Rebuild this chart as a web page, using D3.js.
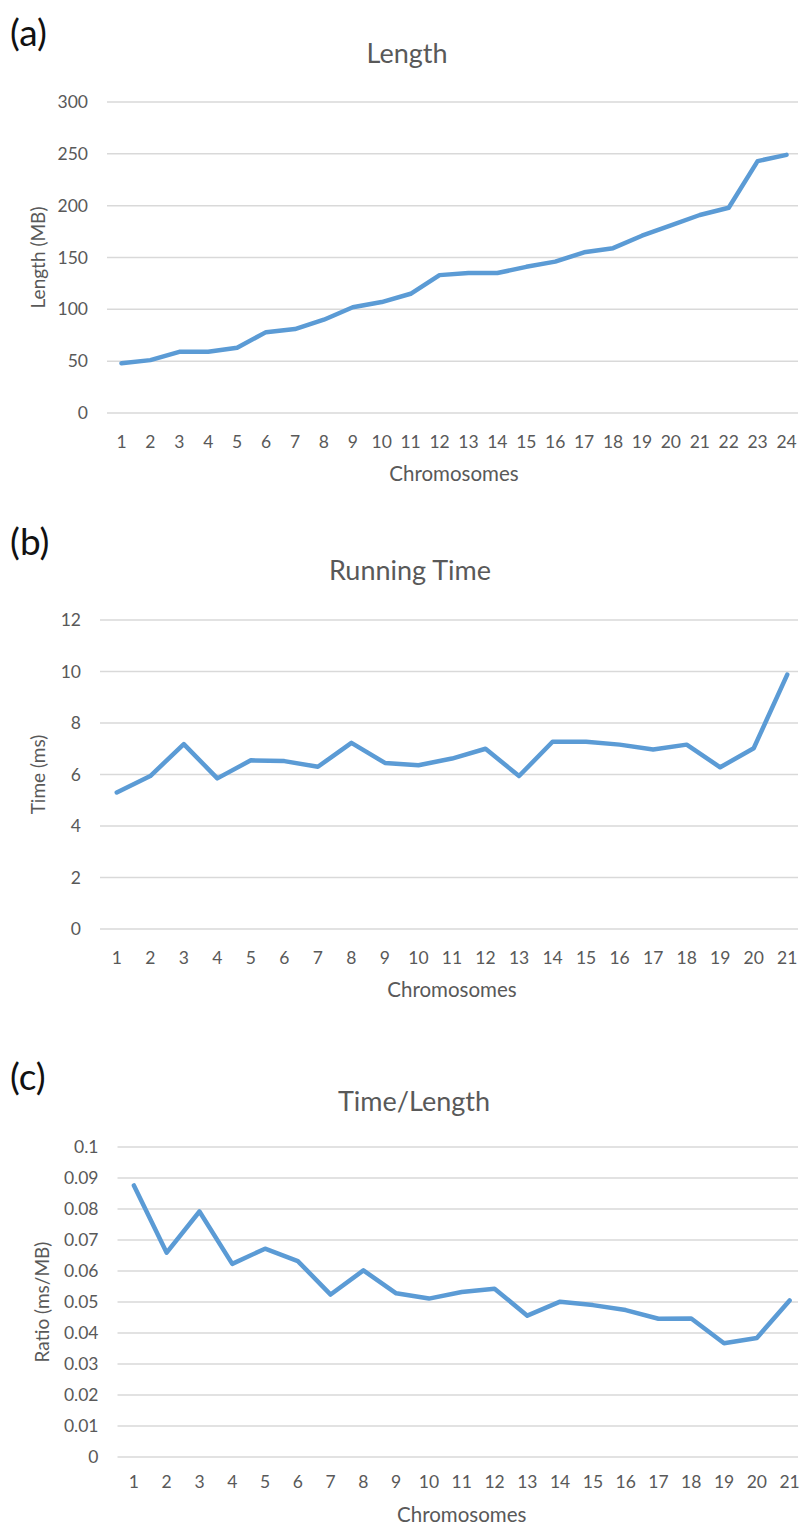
<!DOCTYPE html>
<html>
<head>
<meta charset="utf-8">
<script src="https://cdn.jsdelivr.net/npm/d3@7"></script>
<style>
  body { margin: 0; background: #fff; }
  text { font-family: Lato, "Open Sans", sans-serif; }
</style>
</head>
<body>
<div id="chart"></div>
<script>
// Chromosome charts: length, running time and time/length

const width = 801;
const height = 1527;

// data
const lengthChromosomes = d3.range(1, 25).map(String);
const timeChromosomes = d3.range(1, 22).map(String);

const lengthMB = [48, 51, 59, 59, 63, 78, 81, 90, 102, 107, 115, 133,
                  135, 135, 141, 146, 155, 159, 171, 181, 191, 198, 243, 249];
const timeMs = [5.30, 5.94, 7.18, 5.85, 6.55, 6.52, 6.30, 7.23, 6.45, 6.36, 6.62,
                7.00, 5.94, 7.27, 7.27, 7.16, 6.97, 7.16, 6.28, 7.02, 9.88];
const ratio = [0.0876, 0.0659, 0.0792, 0.0623, 0.0672, 0.0632, 0.0524, 0.0602,
               0.0528, 0.0511, 0.0532, 0.0543, 0.0456, 0.0501, 0.0490, 0.0474,
               0.0446, 0.0447, 0.0367, 0.0384, 0.0505];

const lengthTicks = [0, 50, 100, 150, 200, 250, 300];
const timeTicks = [0, 2, 4, 6, 8, 10, 12];
const ratioTicks = d3.range(0, 11).map(i => i / 100);

const svg = d3.select("#chart")
  .append("svg")
  .attr("width", width)
  .attr("height", height);

///////////////////////////////////////////
////////////// Panels /////////////////////
///////////////////////////////////////////
const panels = [
  {
    tag: "(a)", tagY: 46,
    title: "Length", titleX: 407, titleY: 63,
    yTitle: "Length (MB)", yTitleX: 38,
    cats: lengthChromosomes, values: lengthMB, ticks: lengthTicks,
    fmt: d => d,
    x0: 107, x1: 801, yTop: 102, yBottom: 413,
    xLabelY: 448, xTitleY: 481
  },
  {
    tag: "(b)", tagY: 555,
    title: "Running Time", titleX: 410, titleY: 580,
    yTitle: "Time (ms)", yTitleX: 38,
    cats: timeChromosomes, values: timeMs, ticks: timeTicks,
    fmt: d => d,
    x0: 100, x1: 804, yTop: 620, yBottom: 929,
    xLabelY: 964, xTitleY: 997
  },
  {
    tag: "(c)", tagY: 1090,
    title: "Time/Length", titleX: 414, titleY: 1111,
    yTitle: "Ratio (ms/MB)", yTitleX: 42,
    cats: timeChromosomes, values: ratio, ticks: ratioTicks,
    fmt: d => d === 0 ? "0" : d3.format(".2~f")(d),
    x0: 117.5, x1: 806, yTop: 1147, yBottom: 1457,
    xLabelY: 1488, xTitleY: 1522
  }
];

panels.forEach(p => {
  const g = svg.append("g");

  const x = d3.scalePoint()
    .domain(p.cats)
    .range([p.x0, p.x1])
    .padding(0.5);

  const y = d3.scaleLinear()
    .domain([0, d3.max(p.ticks)])
    .range([p.yBottom, p.yTop]);

  // gridlines
  g.selectAll(".grid")
    .data(p.ticks)
    .join("line")
      .attr("x1", p.x0)
      .attr("x2", Math.min(p.x1, width - 3))
      .attr("y1", d => y(d))
      .attr("y2", d => y(d))
      .attr("stroke", "#d9d9d9")
      .attr("stroke-width", 1.5);

  // y tick labels
  g.selectAll(".ytick")
    .data(p.ticks)
    .join("text")
      .attr("x", p.x0 - 19)
      .attr("y", d => y(d))
      .attr("dy", "0.35em")
      .attr("text-anchor", "end")
      .attr("font-size", 17.5)
      .attr("fill", "#595959")
      .text(p.fmt);

  // x tick labels
  g.selectAll(".xtick")
    .data(p.cats)
    .join("text")
      .attr("x", d => x(d))
      .attr("y", p.xLabelY)
      .attr("text-anchor", "middle")
      .attr("font-size", 17.5)
      .attr("fill", "#595959")
      .text(d => d);

  // line
  const line = d3.line()
    .x((d, i) => x(p.cats[i]))
    .y(d => y(d));

  g.append("path")
    .datum(p.values)
    .attr("fill", "none")
    .attr("stroke", "#5b9bd5")
    .attr("stroke-width", 4.5)
    .attr("stroke-linejoin", "round")
    .attr("stroke-linecap", "round")
    .attr("d", line);

  // titles
  g.append("text")
    .attr("x", 10)
    .attr("y", p.tagY)
    .attr("font-size", 37)
    .attr("fill", "#111")
    .text(p.tag);

  g.append("text")
    .attr("x", p.titleX)
    .attr("y", p.titleY)
    .attr("text-anchor", "middle")
    .attr("font-size", 27)
    .attr("fill", "#595959")
    .text(p.title);

  g.append("text")
    .attr("x", (p.x0 + p.x1) / 2)
    .attr("y", p.xTitleY)
    .attr("text-anchor", "middle")
    .attr("font-size", 20.5)
    .attr("fill", "#595959")
    .text("Chromosomes");

  g.append("text")
    .attr("transform", `translate(${p.yTitleX}, ${(p.yTop + p.yBottom) / 2}) rotate(-90)`)
    .attr("dy", "0.35em")
    .attr("text-anchor", "middle")
    .attr("font-size", 19)
    .attr("fill", "#595959")
    .text(p.yTitle);
});
</script>
</body>
</html>
